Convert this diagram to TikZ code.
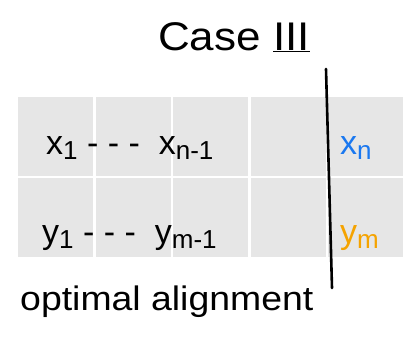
\documentclass[tikz,border=0pt]{standalone}
\usepackage{fontspec}
\setmainfont{Liberation Sans}
\definecolor{cellgray}{HTML}{E6E6E6}
\definecolor{xblue}{HTML}{1A78F0}
\definecolor{yorange}{HTML}{F5A300}
\tikzset{
  cell/.style={fill=cellgray, draw=none, minimum width=75pt, minimum height=79pt, inner sep=0pt, anchor=north west},
  hand/.style={font=\fontsize{34}{38}\selectfont, inner sep=0pt},
}
\newcommand{\mysub}[1]{{\fontsize{26}{28}\selectfont\raisebox{-5pt}{#1}}}
\begin{document}
\begin{tikzpicture}[x=1pt,y=-1pt]
\useasboundingbox (0,0) rectangle (403,346);
% grid cells
\foreach \c/\xx in {1/18,2/96,3/173,4/251,5/328}{
  \node[cell] (r1c\c) at (\xx,97) {};
  \node[cell] (r2c\c) at (\xx,178) {};
}
% title
\node[hand, anchor=base west, font=\fontsize{40}{44}\selectfont, xscale=1.1] (title) at (158,50) {Case \underline{III}};
% separator line
\coordinate (top) at (326,69);
\coordinate (bot) at (332,288);
\draw[line width=2.6pt, line cap=round] (top) -- (bot);
% row texts
\node[hand, anchor=base west] (xrow) at (46,154) {x\mysub{1} - - -\ \ x\mysub{n-1}};
\node[hand, anchor=base west] (yrow) at (42,243) {y\mysub{1} - - -\ \ y\mysub{m-1}};
\node[hand, anchor=base west, text=xblue] (xn) at (340,154) {x\mysub{n}};
\node[hand, anchor=base west, text=yorange] (ym) at (340,243) {y\mysub{m}};
% caption
\node[hand, anchor=base west, xscale=1.1] (cap) at (20,310) {optimal alignment};
\end{tikzpicture}
\end{document}
